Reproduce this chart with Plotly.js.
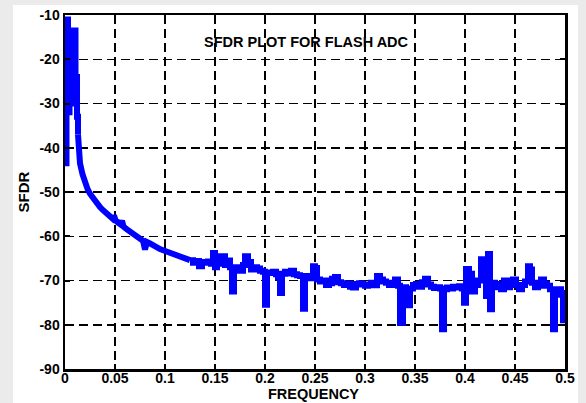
<!DOCTYPE html>
<html>
<head>
<meta charset="utf-8">
<script src="https://cdn.plot.ly/plotly-3.0.1.min.js"></script>
<style>html,body{margin:0;padding:0;background:#fff;}#chart{width:586px;height:403px;}</style>
</head>
<body>
<div id="chart"></div>
<script>
var freq = [0.000,0.0015,0.003,0.0045,0.006,0.0075,0.0095,0.0105,0.012,0.013,0.015,0.0175,0.020,0.0225,0.025,0.0275,0.030,0.0325,0.035,0.0375,0.040,0.0425,0.045,0.0475,0.049,0.0505,0.053,0.0555,0.057,0.0585,0.061,0.0635,0.066,0.0685,0.071,0.0735,0.076,0.078,0.080,0.082,0.085,0.0875,0.090,0.0925,0.095,0.0975,0.100,0.1025,0.105,0.1075,0.110,0.1125,0.115,0.1175,0.120,0.1225,0.125,0.128,0.131,0.134,0.137,0.140,0.143,0.146,0.148,0.150,0.152,0.155,0.158,0.160,0.1625,0.165,0.167,0.169,0.172,0.175,0.178,0.180,0.183,0.186,0.189,0.192,0.195,0.198,0.200,0.202,0.205,0.208,0.211,0.213,0.215,0.217,0.220,0.223,0.226,0.229,0.232,0.235,0.238,0.240,0.243,0.246,0.248,0.250,0.252,0.255,0.258,0.261,0.264,0.267,0.270,0.273,0.276,0.279,0.282,0.285,0.288,0.291,0.294,0.297,0.300,0.303,0.306,0.309,0.312,0.315,0.318,0.321,0.324,0.327,0.330,0.333,0.335,0.338,0.341,0.343,0.345,0.348,0.351,0.354,0.357,0.360,0.363,0.366,0.369,0.372,0.375,0.377,0.379,0.382,0.385,0.388,0.391,0.394,0.397,0.399,0.401,0.404,0.407,0.410,0.413,0.416,0.419,0.421,0.423,0.425,0.427,0.430,0.433,0.436,0.439,0.442,0.445,0.448,0.451,0.454,0.457,0.460,0.463,0.465,0.467,0.470,0.473,0.476,0.479,0.482,0.485,0.488,0.490,0.493,0.496,0.498,0.500];
var sfdr = [-43.5,-11,-32,-13.5,-30,-13.5,-13.5,-24,-33,-37,-43.5,-46,-48,-49.3,-50.4,-51.3,-52.1,-52.8,-53.4,-54.0,-54.6,-55.1,-55.6,-56.0,-55.3,-56.4,-56.9,-57.3,-56.5,-57.8,-58.3,-58.7,-59.2,-59.6,-60.0,-60.4,-60.8,-61.0,-63.0,-61.3,-61.6,-62.0,-62.3,-62.6,-62.9,-63.1,-63.3,-63.5,-63.8,-64.0,-64.2,-64.4,-64.6,-64.8,-65.0,-65.2,-65.4,-66.0,-65.6,-66.8,-65.8,-66.0,-65.7,-66.2,-63.8,-67.0,-64.5,-66.2,-64.5,-66.5,-65.5,-67.0,-72.5,-67.0,-67.5,-67.8,-66.5,-64.5,-65.8,-67.5,-67.0,-67.3,-67.8,-68.0,-75.5,-68.3,-68.2,-68.0,-68.6,-69.2,-72.8,-68.5,-68.0,-68.4,-67.8,-68.6,-68.8,-69.0,-76.4,-69.0,-69.3,-69.5,-66.8,-67.2,-69.8,-70.2,-70.0,-71.0,-70.6,-69.6,-69.2,-70.4,-70.6,-71.0,-70.7,-71.4,-71.6,-70.8,-70.6,-70.9,-71.2,-71.0,-70.5,-71.1,-69.0,-69.8,-70.2,-70.5,-71.0,-70.5,-69.8,-71.2,-79.6,-71.5,-72.0,-75.6,-71.8,-71.0,-70.8,-71.4,-70.4,-69.6,-70.9,-71.4,-71.7,-71.5,-71.8,-81.0,-72.0,-71.6,-71.8,-71.4,-71.6,-71.3,-71.8,-75.0,-67.4,-68.5,-72.5,-71.0,-70.0,-65.2,-68.5,-73.5,-64.0,-76.5,-70.5,-70.8,-71.5,-72.0,-70.0,-71.5,-70.5,-69.8,-71.0,-72.0,-71.0,-70.2,-66.8,-67.5,-70.5,-71.5,-71.2,-69.8,-70.8,-71.2,-72.0,-81.0,-73.2,-72.0,-72.8,-79.0,-73.0];
var xTickVals = [0,0.05,0.1,0.15,0.2,0.25,0.3,0.35,0.4,0.45,0.5];
var xTickText = ["0","0.05","0.1","0.15","0.2","0.25","0.3","0.35","0.4","0.45","0.5"];
var yTickVals = [-90,-80,-70,-60,-50,-40,-30,-20,-10];
var yTickText = ["-90","-80","-70","-60","-50","-40","-30","-20","-10"];
var chartTitle = "SFDR PLOT FOR FLASH ADC";
var xTitle = "FREQUENCY";
var yTitle = "SFDR";

var fnt = {family: "Arial, 'Liberation Sans', sans-serif", size: 14, color: "#000", weight: "bold"};
var tfnt = {family: "Arial, 'Liberation Sans', sans-serif", size: 15, color: "#000", weight: "bold"};

// peak region and noisy floor drawn as steps, smooth decay drawn linearly
var segs = [[0, 10, "hv"], [9, 57, "linear"], [56, freq.length, "hv"]];
var traces = segs.map(function (s) {
  return {
    x: freq.slice(s[0], s[1]), y: sfdr.slice(s[0], s[1]),
    type: "scatter", mode: "lines",
    line: {color: "#0000ff", width: 6, shape: s[2]},
    hoverinfo: "skip"
  };
});

var axisCommon = {
  showline: true, linecolor: "#000", linewidth: 2.5, mirror: "ticks",
  ticks: "inside", ticklen: 5, tickwidth: 2, tickcolor: "#000",
  showgrid: true, gridcolor: "#000", gridwidth: 1.5, griddash: "9px,5px",
  zeroline: false, tickfont: fnt
};

var layout = {
  width: 586, height: 403,
  margin: {l: 65, r: 21, t: 15, b: 34},
  paper_bgcolor: "#ebebeb", plot_bgcolor: "#ffffff",
  showlegend: false,
  xaxis: Object.assign({}, axisCommon, {
    range: [0, 0.5], tickmode: "array", tickvals: xTickVals, ticktext: xTickText,
    ticklabelstandoff: -5
  }),
  yaxis: Object.assign({}, axisCommon, {
    range: [-90, -10], tickmode: "array", tickvals: yTickVals, ticktext: yTickText,
    title: {text: yTitle, font: tfnt, standoff: 6}
  }),
  shapes: [{
    type: "rect", xref: "paper", yref: "paper", layer: "below",
    x0: -0.104, x1: 1.026, y0: -0.1, y1: 1.028,
    fillcolor: "#ffffff", line: {width: 0}
  }],
  annotations: [{
    text: chartTitle, xref: "paper", yref: "paper", x: 0.483, y: 0.923,
    xanchor: "center", yanchor: "middle", showarrow: false,
    font: {family: "Arial, 'Liberation Sans', sans-serif", size: 14.5, color: "#000", weight: "bold"}
  }, {
    text: xTitle, xref: "paper", yref: "paper", x: 0.496, y: -0.071,
    xanchor: "center", yanchor: "middle", showarrow: false, borderpad: 0,
    font: {family: "Arial, 'Liberation Sans', sans-serif", size: 14.5, color: "#000", weight: "bold"}
  }]
};

Plotly.newPlot("chart", traces, layout, {displayModeBar: false, staticPlot: true});
</script>
</body>
</html>
